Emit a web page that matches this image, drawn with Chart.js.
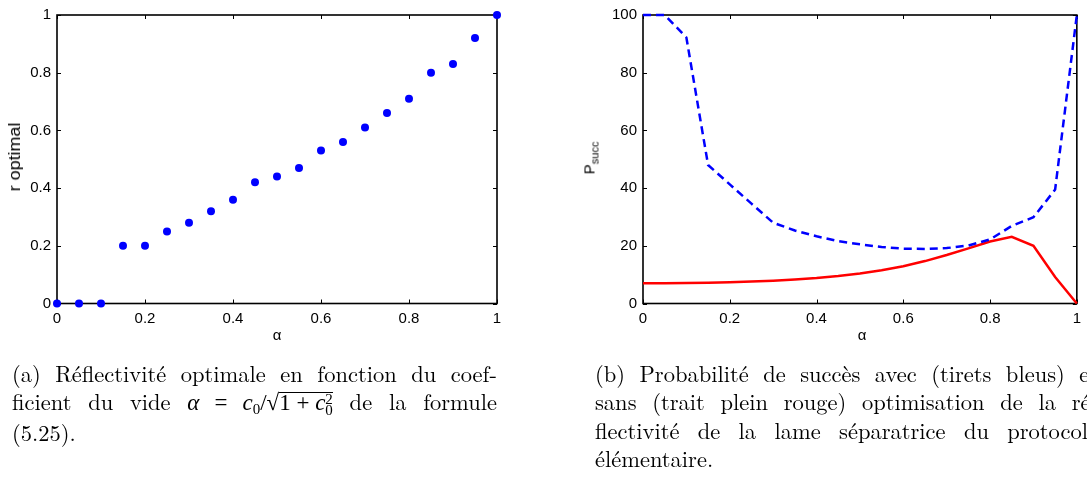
<!DOCTYPE html>
<html>
<head>
<meta charset="utf-8">
<script src="https://cdn.jsdelivr.net/npm/chart.js@4.4.1/dist/chart.umd.min.js"></script>
<style>
  html, body { margin:0; padding:0; background:#fff; }
  #page { position:relative; width:1087px; height:479px; overflow:hidden; background:#fff; }
  .box { position:absolute; }
  .axt { position:absolute; font-family:"Liberation Sans", Arial, sans-serif; font-size:15px; color:#000; white-space:nowrap; line-height:1; }
  .rot { transform:translate(-50%,-50%) rotate(-90deg); }
  .rots { transform:translate(-50%,-50%) rotate(-90deg) scaleX(1.12); }
  .cen { transform:translate(-50%,-50%); }
  .cap { position:absolute; color:#000; line-height:28.3px; font-family:"Latin Modern Roman", "Liberation Serif", serif; font-size:22.5px; }
  .cap .l { text-align:justify; text-align-last:justify; white-space:nowrap; }
  .cap .last { text-align:left; text-align-last:left; }
  .m { font-family:"Liberation Serif", serif; font-size:23px; }
  .sqrt { display:inline-block; line-height:19px; border-top:1.3px solid #000; padding-top:0; }
  .ss { display:inline-block; vertical-align:-5px; line-height:11px; font-size:15px; }
  .sb { font-size:15px; vertical-align:-4px; line-height:0; }
</style>
</head>
<body>
<div id="page">
  <div class="box" style="left:0;top:0;width:520px;height:360px;"><canvas id="c1"></canvas></div>
  <div class="box" style="left:560px;top:0;width:527px;height:360px;"><canvas id="c2"></canvas></div>

  <div class="axt rots" style="left:15px;top:157px;font-size:16px;">r optimal</div>
  <div class="axt cen" style="left:277px;top:334px;">α</div>
  <div class="axt rot" style="left:591px;top:158px;">P<sub style="font-size:11px;">succ</sub></div>
  <div class="axt cen" style="left:862px;top:334px;">α</div>

  <div class="cap" style="left:12px;top:359px;width:485px;">
    <div class="l">(a) Réflectivité optimale en fonction du coef-</div>
    <div class="l">ficient du vide <span class="m"><i>α</i> = <i>c</i><span class="sb">0</span>/√<span class="sqrt">1 + <i>c</i><span class="ss">2<br>0</span></span></span> de la formule</div>
    <div class="l last">(5.25).</div>
  </div>
  <div class="cap" style="left:595px;top:359px;width:503px;">
    <div class="l">(b) Probabilité de succès avec (tirets bleus) et</div>
    <div class="l">sans (trait plein rouge) optimisation de la ré-</div>
    <div class="l">flectivité de la lame séparatrice du protocole</div>
    <div class="l last">élémentaire.</div>
  </div>
</div>
<script>
// ---- data ----
const alpha = [0,0.05,0.1,0.15,0.2,0.25,0.3,0.35,0.4,0.45,0.5,0.55,0.6,0.65,0.7,0.75,0.8,0.85,0.9,0.95,1];
const rOptimal = [0,0,0,0.2,0.2,0.25,0.28,0.32,0.36,0.42,0.44,0.47,0.53,0.56,0.61,0.66,0.71,0.80,0.83,0.92,1.0];
const pSuccOpt = [100,100,92.2,48,41.3,34.6,28,25.3,23.3,21.6,20.5,19.6,19.0,18.9,19.2,20.1,22.2,26.9,29.9,39.5,100];
const pSuccNoOpt = [7.0,7.05,7.1,7.2,7.4,7.6,7.9,8.3,8.8,9.5,10.4,11.5,12.9,14.7,16.8,19.1,21.5,23.1,20.0,9.2,0];
const xTickValues = [0,0.2,0.4,0.6,0.8,1];
const xTickLabels = ['0','0.2','0.4','0.6','0.8','1'];
const yTickValues1 = [0,0.2,0.4,0.6,0.8,1];
const yTickLabels1 = ['0','0.2','0.4','0.6','0.8','1'];
const yTickValues2 = [0,20,40,60,80,100];
const yTickLabels2 = ['0','20','40','60','80','100'];

const FONT = {family:'"Liberation Sans", Arial, sans-serif', size:15};

const boxTicks = {
  id:'boxTicks',
  beforeDatasetsDraw(chart){
    const c = chart.ctx, a = chart.chartArea, xs = chart.scales.x, ys = chart.scales.y;
    c.save();
    c.strokeStyle = '#000';
    c.lineWidth = 1;
    c.beginPath();
    xs.ticks.forEach(t => {
      const p = Math.round(xs.getPixelForValue(t.value)) + 0.5;
      c.moveTo(p, a.bottom); c.lineTo(p, a.bottom - 4);
      c.moveTo(p, a.top); c.lineTo(p, a.top + 4);
    });
    ys.ticks.forEach(t => {
      const p = Math.round(ys.getPixelForValue(t.value)) + 0.5;
      c.moveTo(a.left, p); c.lineTo(a.left + 4, p);
      c.moveTo(a.right, p); c.lineTo(a.right - 4, p);
    });
    c.stroke();
    c.lineWidth = 1.6;
    c.strokeRect(a.left, a.top, a.right - a.left, a.bottom - a.top);
    c.restore();
  }
};

function scales(yVals, yLabs, yMin, yMax, yWidth, xHeight){
  return {
    x: {
      type:'linear', min:0, max:1,
      afterBuildTicks: s => { s.ticks = xTickValues.map(v => ({value:v})); },
      ticks:{ color:'#000', font:FONT, padding:6, maxRotation:0, autoSkip:false,
              callback:(v,i) => xTickLabels[i] },
      grid:{ display:false, drawTicks:false }, border:{ display:false },
      afterFit: s => { s.height = xHeight; }
    },
    y: {
      type:'linear', min:yMin, max:yMax,
      afterBuildTicks: s => { s.ticks = yVals.map(v => ({value:v})); },
      ticks:{ color:'#000', font:FONT, padding:6, autoSkip:false,
              callback:(v,i) => yLabs[i] },
      grid:{ display:false, drawTicks:false }, border:{ display:false },
      afterFit: s => { s.width = yWidth; }
    }
  };
}

const common = {
  responsive:true, maintainAspectRatio:false, animation:false,
  plugins:{ legend:{display:false}, tooltip:{enabled:false} },
  events:[]
};

new Chart(document.getElementById('c1'), {
  type:'scatter',
  data:{ datasets:[{
    data: alpha.map((a,i) => ({x:a, y:rOptimal[i]})),
    backgroundColor:'#0000ff', borderColor:'#0000ff',
    pointRadius:4, pointBorderWidth:0, clip:false
  }]},
  options: Object.assign({}, common, {
    layout:{ padding:{ left:0, top:10, right:23, bottom:0 } },
    scales: scales(yTickValues1, yTickLabels1, 0, 1, 57, 56.5)
  }),
  plugins:[boxTicks]
});

new Chart(document.getElementById('c2'), {
  type:'line',
  data:{ datasets:[
    { data: alpha.map((a,i) => ({x:a, y:pSuccOpt[i]})),
      borderColor:'#0000ff', borderWidth:2.5, borderDash:[8,5], pointRadius:0, fill:false, tension:0, clip:false },
    { data: alpha.map((a,i) => ({x:a, y:pSuccNoOpt[i]})),
      borderColor:'#ff0000', borderWidth:2.5, pointRadius:0, fill:false, tension:0, clip:false }
  ]},
  options: Object.assign({}, common, {
    layout:{ padding:{ left:0, top:10, right:5, bottom:0 } },
    scales: scales(yTickValues2, yTickLabels2, 0, 100, 83, 56.5)
  }),
  plugins:[boxTicks]
});
</script>
</body>
</html>
